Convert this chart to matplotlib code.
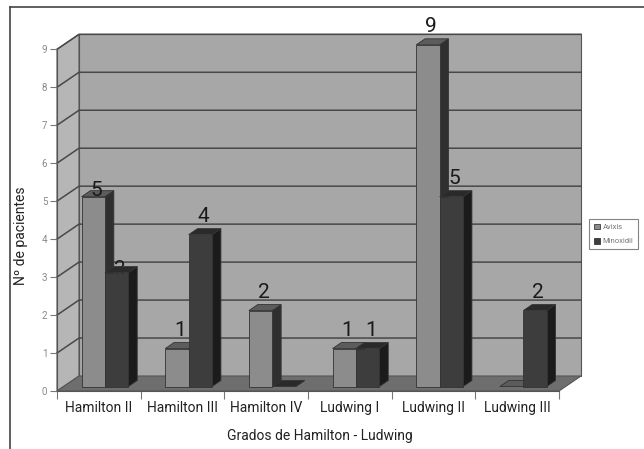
import matplotlib
matplotlib.use("Agg")
import matplotlib.pyplot as plt
from matplotlib.patches import Polygon, Patch
from matplotlib.lines import Line2D

categories = ["Hamilton II", "Hamilton III", "Hamilton IV", "Ludwing I", "Ludwing II", "Ludwing III"]
series_names = ["Avixis", "Minoxidil"]
avixis = [5, 1, 2, 1, 9, 0]
minoxidil = [3, 4, 0, 1, 5, 2]
yticks = list(range(10))

plt.rcParams["font.family"] = ["Roboto", "DejaVu Sans"]

# depth of the fake 3d box, in data units
DX = 0.263
DY = 0.395


def proj(x, y, t):
    # point at depth t (0 front, 1 back wall)
    return (x + t * DX, y + t * DY)


def face(ax, pts, color, z, edge="#333333", lw=0.6):
    ax.add_patch(Polygon([proj(*p) for p in pts], closed=True, facecolor=color,
                         edgecolor=edge, linewidth=lw, zorder=z, clip_on=False))


def bar3d(ax, x0, x1, h, cols, z):
    t0, t1 = 0.3, 0.7
    y0 = 0
    front, top, side = cols
    # right side
    face(ax, [(x1, y0, t0), (x1, y0, t1), (x1, h, t1), (x1, h, t0)], side, z)
    # top
    face(ax, [(x0, h, t0), (x1, h, t0), (x1, h, t1), (x0, h, t1)], top, z)
    # front
    if h > 0:
        face(ax, [(x0, y0, t0), (x1, y0, t0), (x1, h, t0), (x0, h, t0)], front, z)


fig = plt.figure(figsize=(6.44, 4.49), dpi=100)
ax = fig.add_axes([57 / 644, (449 - 391) / 449, 502 / 644, (391 - 49.3) / 449])
ax.set_xlim(0, len(categories))
ax.set_ylim(0, 9)
ax.patch.set_visible(False)

n = len(categories)
ymax = yticks[-1]
wall_edge = "#555555"
# back wall, left wall, floor
face(ax, [(0, 0, 1), (n, 0, 1), (n, ymax, 1), (0, ymax, 1)], "#a7a7a7", 0.5, wall_edge, 0.8)
face(ax, [(0, 0, 0), (0, 0, 1), (0, ymax, 1), (0, ymax, 0)], "#b6b6b6", 0.6, wall_edge, 0.8)
face(ax, [(0, 0, 0), (n, 0, 0), (n, 0, 1), (0, 0, 1)], "#6e6e6e", 0.7, wall_edge, 0.8)

for v in yticks[1:]:
    xs, ys = zip(proj(0, v, 0), proj(0, v, 1), proj(n, v, 1))
    ax.plot(xs, ys, color="#484848", lw=1.1, zorder=0.8, clip_on=False)

cols_a = ("#8c8c8c", "#5c5c5c", "#2f2f2f")
cols_m = ("#3d3d3d", "#2a2a2a", "#1b1b1b")
w = 0.28
for i in range(n):
    xa = i + 0.215
    bar3d(ax, xa, xa + w, avixis[i], cols_a, 3 + i)
    bar3d(ax, xa + w, xa + 2 * w, minoxidil[i], cols_m, 3.5 + i)
    for j, v in enumerate([avixis[i], minoxidil[i]]):
        if v == 0:
            continue
        cx, cy = proj(xa + w * (j + 0.5), v, 0.45)
        lift, z = 0.28, 20
        if i == 0:
            # the first pair's labels were squeezed down onto the bar tops
            lift = -0.05 if j == 0 else -0.12
            z = 20 if j == 0 else 3.2
        ax.text(cx, cy + lift, str(v), ha="center", va="baseline", fontsize=15,
                color="#1a1a1a", zorder=z)

for s in ["top", "right"]:
    ax.spines[s].set_visible(False)
for s in ["left", "bottom"]:
    ax.spines[s].set_color("#555555")
    ax.spines[s].set_linewidth(0.8)

ax.set_yticks(yticks)
ax.tick_params(axis="y", direction="out", length=5, color="#777777",
               labelsize=7, labelcolor="#888888", pad=2)
ax.set_xticks(range(n + 1))
ax.set_xticklabels([])
ax.set_xticks([i + 0.5 for i in range(n)], minor=True)
ax.set_xticklabels(categories, minor=True, fontsize=10, color="#222222")
ax.tick_params(axis="x", which="major", direction="out", length=6, color="#777777")
ax.tick_params(axis="x", which="minor", length=0, pad=7)

ax.set_ylabel("Nº de pacientes", fontsize=10, color="#222222")
ax.yaxis.set_label_coords(-0.058, 0.454)
ax.set_xlabel("Grados de Hamilton - Ludwing", fontsize=10, color="#222222")
ax.xaxis.set_label_coords(0.524, -0.11)

handles = [Patch(facecolor=cols_a[0], edgecolor="#222222", linewidth=0.5),
           Patch(facecolor=cols_m[0], edgecolor="#222222", linewidth=0.5)]
leg = ax.legend(handles, series_names, loc="upper left", fontsize=5.5,
                bbox_to_anchor=(589 / 644, 1 - 219 / 449), bbox_transform=fig.transFigure,
                borderaxespad=0, fancybox=False, edgecolor="#666666",
                handlelength=0.8, handleheight=0.8, handletextpad=0.4,
                labelspacing=1.0, borderpad=0.6)
leg.get_frame().set_linewidth(0.8)
for t in leg.get_texts():
    t.set_color("#777777")

# outer frame (only top and left are in view)
fig.add_artist(Line2D([10 / 644, 10 / 644], [0, 1 - 7 / 449], color="#444444", lw=1.2))
fig.add_artist(Line2D([10 / 644, 1], [1 - 7 / 449, 1 - 7 / 449], color="#444444", lw=1.2))

fig.savefig("out.png", dpi=100)
